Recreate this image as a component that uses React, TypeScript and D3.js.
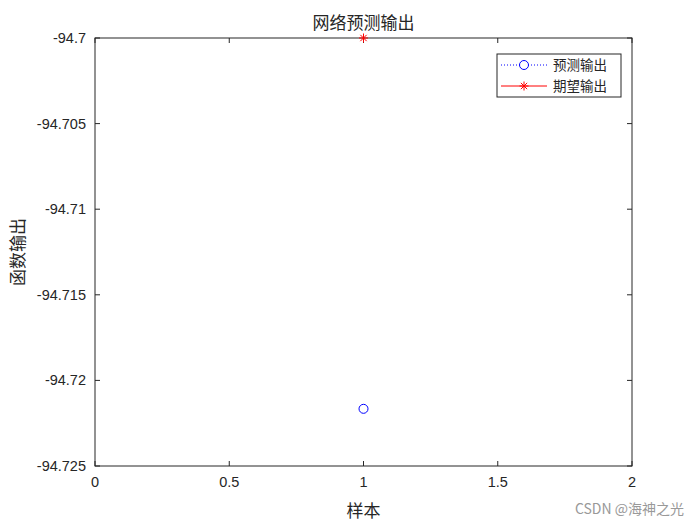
import React from 'react';
import * as d3 from 'd3';

// chart data
const samples = [1];
const predicted = [-94.72166];
const expected = [-94.7];
const xTicks = [0, 0.5, 1, 1.5, 2];
const yTicks = [-94.7, -94.705, -94.71, -94.715, -94.72, -94.725];

const W = 700, H = 525;
const margin = { top: 38, right: 68, bottom: 59, left: 95 };
const CJK = '"Noto Sans CJK SC", sans-serif';
const LAT = '"Liberation Sans", Arial, sans-serif';

export default function App() {
  const iw = W - margin.left - margin.right;
  const ih = H - margin.top - margin.bottom;
  const x = d3.scaleLinear().domain([0, 2]).range([0, iw]);
  const y = d3.scaleLinear().domain([-94.725, -94.7]).range([ih, 0]);
  const tl = 5;
  const star = (cx: number, cy: number, r: number, color: string) => (
    <g stroke={color} strokeWidth={1}>
      <line x1={cx - r} y1={cy} x2={cx + r} y2={cy} />
      <line x1={cx} y1={cy - r} x2={cx} y2={cy + r} />
      <line x1={cx - r * 0.7} y1={cy - r * 0.7} x2={cx + r * 0.7} y2={cy + r * 0.7} />
      <line x1={cx - r * 0.7} y1={cy + r * 0.7} x2={cx + r * 0.7} y2={cy - r * 0.7} />
    </g>
  );
  const fmtY = (v: number) => String(+v.toFixed(3));
  return (
    <svg width={W} height={H} style={{ position: 'absolute', left: 0, top: 0, background: '#fff' }}>
      <rect width={W} height={H} fill="#fff" />
      <g transform={`translate(${margin.left},${margin.top})`}>
        <rect width={iw} height={ih} fill="#fff" stroke="#262626" strokeWidth={1} />
        {xTicks.map(t => (
          <g key={'x' + t}>
            <line x1={x(t)} x2={x(t)} y1={ih} y2={ih - tl} stroke="#262626" />
            <line x1={x(t)} x2={x(t)} y1={0} y2={tl} stroke="#262626" />
            <text x={x(t)} y={ih + 21} textAnchor="middle" fontFamily={LAT} fontSize={14.5} fill="#262626">{t}</text>
          </g>
        ))}
        {yTicks.map(t => (
          <g key={'y' + t}>
            <line x1={0} x2={tl} y1={y(t)} y2={y(t)} stroke="#262626" />
            <line x1={iw} x2={iw - tl} y1={y(t)} y2={y(t)} stroke="#262626" />
            <text x={-9} y={y(t) + 5} textAnchor="end" fontFamily={LAT} fontSize={14.5} fill="#262626">{fmtY(t)}</text>
          </g>
        ))}
        {samples.map((s, i) => (
          <circle key={'p' + i} cx={x(s)} cy={y(predicted[i])} r={4.5} fill="none" stroke="#0000ff" strokeWidth={1} />
        ))}
        {samples.map((s, i) => (
          <g key={'e' + i}>{star(x(s), y(expected[i]), 4.5, '#ff0000')}</g>
        ))}
        <text x={iw / 2} y={-9} textAnchor="middle" fontFamily={CJK} fontSize={17} fill="#262626">网络预测输出</text>
        <text x={iw / 2} y={ih + 51} textAnchor="middle" fontFamily={CJK} fontSize={17} fill="#262626">样本</text>
        <text transform={`translate(${-71},${ih / 2}) rotate(-90)`} textAnchor="middle" fontFamily={CJK} fontSize={17} fill="#262626">函数输出</text>
        {/* legend */}
        <g transform={`translate(${402},${16})`}>
          <rect width={124} height={43} fill="#fff" stroke="#262626" strokeWidth={1} />
          <line x1={4} x2={50} y1={11} y2={11} stroke="#0000ff" strokeDasharray="1,2" />
          <circle cx={27} cy={11} r={4.5} fill="#fff" stroke="#0000ff" />
          <text x={56} y={16} fontFamily={CJK} fontSize={13.5} fill="#262626">预测输出</text>
          <line x1={4} x2={50} y1={32} y2={32} stroke="#ff0000" />
          {star(27, 32, 4.5, '#ff0000')}
          <text x={56} y={37} fontFamily={CJK} fontSize={13.5} fill="#262626">期望输出</text>
        </g>
      </g>
      <text x={684} y={514} textAnchor="end" fontFamily={CJK} fontSize={14} fill="#999">CSDN @海神之光</text>
    </svg>
  );
}
